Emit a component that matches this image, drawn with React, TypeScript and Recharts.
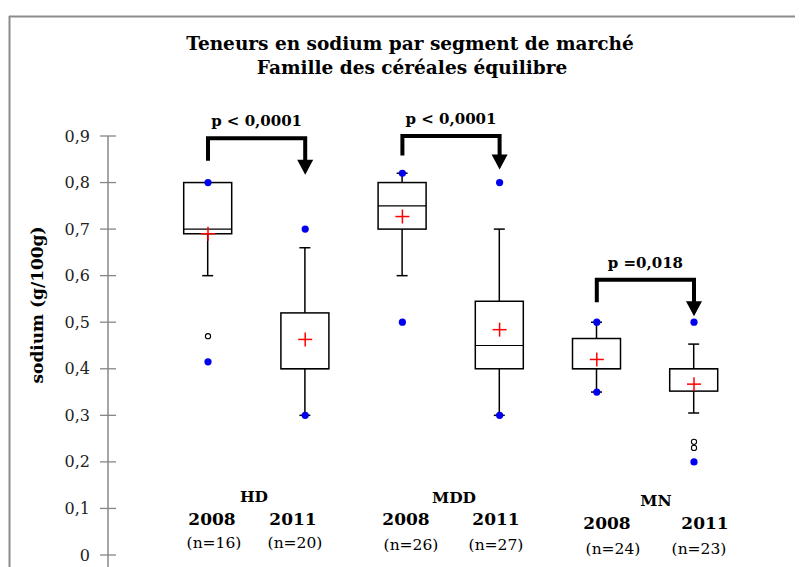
import React from 'react';
import { ComposedChart, Bar, Scatter, XAxis, YAxis } from 'recharts';

const categories = ['HD 2008', 'HD 2011', 'MDD 2008', 'MDD 2011', 'MN 2008', 'MN 2011'];
const xPos = [1, 2, 3, 4, 5, 6];
const q1 = [0.69, 0.4, 0.7, 0.4, 0.4, 0.352];
const median = [0.7, 0.4, 0.75, 0.45, 0.4, 0.4];
const q3 = [0.8, 0.52, 0.8, 0.545, 0.465, 0.4];
const mean = [0.69, 0.463, 0.727, 0.484, 0.42, 0.367];
const whiskerLow = [0.6, 0.3, 0.6, 0.3, 0.35, 0.305];
const whiskerHigh = [0.8, 0.66, 0.82, 0.7, 0.5, 0.453];
const minVal = [0.415, 0.3, 0.5, 0.3, 0.35, 0.2];
const maxVal = [0.8, 0.7, 0.82, 0.8, 0.5, 0.5];
const outliers = [
  { x: 1, y: 0.47 },
  { x: 6, y: 0.243 },
  { x: 6, y: 0.23 },
];
const yTicks = [0, 0.1, 0.2, 0.3, 0.4, 0.5, 0.6, 0.7, 0.8, 0.9];

// p-value brackets: from x1 to x2, top of bracket and bottom of the verticals
const brackets = [
  { x1: 1, x2: 2, top: 0.895, bottom: 0.847, label: 'p < 0,0001' },
  { x1: 3, x2: 4, top: 0.9, bottom: 0.858, label: 'p < 0,0001' },
  { x1: 5, x2: 6, top: 0.591, bottom: 0.543, label: 'p =0,018' },
];

const groupLabels = [
  { text: 'HD', x: 246, y: 494 },
  { text: 'MDD', x: 446, y: 495 },
  { text: 'MN', x: 648, y: 498 },
];
const yearLabels = [
  { text: '2008', x: 204, y: 517 },
  { text: '2011', x: 285, y: 517 },
  { text: '2008', x: 398, y: 517 },
  { text: '2011', x: 488, y: 517 },
  { text: '2008', x: 599, y: 521 },
  { text: '2011', x: 697, y: 521 },
];
const nLabels = [
  { text: '(n=16)', x: 206, y: 540 },
  { text: '(n=20)', x: 287, y: 540 },
  { text: '(n=26)', x: 403, y: 542 },
  { text: '(n=27)', x: 488, y: 542 },
  { text: '(n=24)', x: 605, y: 546 },
  { text: '(n=23)', x: 691, y: 546 },
];

const boxData = categories.map((name, i) => ({
  name,
  x: xPos[i],
  box: [q1[i], q3[i]],
  q1: q1[i],
  q3: q3[i],
  median: median[i],
  low: whiskerLow[i],
  high: whiskerHigh[i],
}));
const meanData = categories.map((_, i) => ({ x: xPos[i], y: mean[i] }));
const extremeData = categories.flatMap((_, i) => [
  { x: xPos[i], y: minVal[i] },
  { x: xPos[i], y: maxVal[i] },
]);

const SERIF = '"DejaVu Serif", serif';

const BoxShape = (props: any) => {
  const { x, y, width, height, payload } = props;
  if (height == null || !payload) return null;
  const k = height / (payload.q3 - payload.q1);
  const py = (v: number) => y + (payload.q3 - v) * k;
  const cx = x + width / 2;
  const cap = 5.5;
  const hi = py(payload.high);
  const lo = py(payload.low);
  const med = py(payload.median);
  return (
    <g>
      {payload.high > payload.q3 && (
        <g stroke="#000" strokeWidth={1.5}>
          <line x1={cx} x2={cx} y1={hi} y2={y} />
          <line x1={cx - cap} x2={cx + cap} y1={hi} y2={hi} />
        </g>
      )}
      {payload.low < payload.q1 && (
        <g stroke="#000" strokeWidth={1.5}>
          <line x1={cx} x2={cx} y1={y + height} y2={lo} />
          <line x1={cx - cap} x2={cx + cap} y1={lo} y2={lo} />
        </g>
      )}
      <rect x={x} y={y} width={width} height={height} fill="#fff" stroke="#000" strokeWidth={1.5} />
      <line x1={x} x2={x + width} y1={med} y2={med} stroke="#000" strokeWidth={1.2} />
    </g>
  );
};

const MeanShape = (props: any) => {
  const { cx, cy } = props;
  return (
    <g stroke="#ff0000" strokeWidth={1.5}>
      <line x1={cx - 7} x2={cx + 7} y1={cy} y2={cy} />
      <line x1={cx} x2={cx} y1={cy - 7} y2={cy + 7} />
    </g>
  );
};

const DotShape = (props: any) => <circle cx={props.cx} cy={props.cy} r={3.6} fill="#0000ee" />;

const OpenShape = (props: any) => (
  <circle cx={props.cx} cy={props.cy} r={2.6} fill="#fff" stroke="#000" strokeWidth={1.1} />
);

const ArrowShape = (props: any) => {
  const { cx, cy, payload } = props;
  if (!payload?.arrow) return null;
  return <polygon points={`${cx - 8},${cy - 1} ${cx + 8},${cy - 1} ${cx},${cy + 14}`} fill="#000" />;
};

const PLabelShape = (props: any) => {
  const { cx, cy, payload } = props;
  return (
    <text x={cx} y={cy - 12} textAnchor="middle" fontFamily={SERIF} fontWeight="bold" fontSize={15} fill="#000">
      {payload.label}
    </text>
  );
};

const YTick = (props: any) => {
  const { x, y, payload } = props;
  const axisX = x + 18;
  return (
    <g>
      <line x1={axisX - 8} x2={axisX + 8} y1={y} y2={y} stroke="#878787" strokeWidth={1.3} />
      <text x={x} y={y} dy="0.35em" textAnchor="end" fontFamily={SERIF} fontSize={16} fill="#222">
        {String(payload.value).replace('.', ',')}
      </text>
    </g>
  );
};

export default function App() {
  return (
    <div style={{ position: 'relative', width: 795, height: 559, background: '#fff' }}>
      <ComposedChart
        width={795}
        height={559}
        data={boxData}
        margin={{ top: 128, right: 60, bottom: 0, left: 0 }}
      >
        <XAxis
          type="number"
          dataKey="x"
          domain={[1, 6]}
          ticks={xPos}
          padding={{ left: 100, right: 49 }}
          hide
        />
        <YAxis
          type="number"
          domain={[-0.0258, 0.9]}
          ticks={yTicks}
          width={100}
          tickLine={false}
          tickSize={8}
          tickMargin={10}
          tick={<YTick />}
          axisLine={{ stroke: '#878787', strokeWidth: 1.5 }}
        />
        <Bar dataKey="box" barSize={48} shape={<BoxShape />} isAnimationActive={false} />
        <Scatter data={outliers} dataKey="y" shape={<OpenShape />} isAnimationActive={false} />
        <Scatter data={extremeData} dataKey="y" shape={<DotShape />} isAnimationActive={false} />
        <Scatter data={meanData} dataKey="y" shape={<MeanShape />} isAnimationActive={false} />
        {brackets.map((b, i) => (
          <Scatter
            key={'br' + i}
            data={[
              { x: b.x1, y: b.bottom },
              { x: b.x1, y: b.top },
              { x: b.x2, y: b.top },
              { x: b.x2, y: b.bottom, arrow: true },
            ]}
            dataKey="y"
            line={{ stroke: '#000', strokeWidth: 4 }}
            shape={<ArrowShape />}
            isAnimationActive={false}
          />
        ))}
        <Scatter
          data={brackets.map((b) => ({ x: (b.x1 + b.x2) / 2, y: b.top, label: b.label }))}
          dataKey="y"
          shape={<PLabelShape />}
          isAnimationActive={false}
        />
      </ComposedChart>
      <svg
        width={795}
        height={559}
        style={{ position: 'absolute', left: 0, top: 0, pointerEvents: 'none' }}
      >
        <line x1={1} x2={795} y1={8.5} y2={8.5} stroke="#8c8c8c" strokeWidth={2} />
        <line x1={1.5} x2={1.5} y1={8} y2={559} stroke="#8c8c8c" strokeWidth={2} />
        <text x={402} y={42} textAnchor="middle" fontFamily={SERIF} fontWeight="bold" fontSize={18.5} fill="#000">
          Teneurs en sodium par segment de marché
        </text>
        <text x={404} y={66} textAnchor="middle" fontFamily={SERIF} fontWeight="bold" fontSize={18.5} fill="#000">
          Famille des céréales équilibre
        </text>
        <text
          x={35}
          y={297}
          transform="rotate(-90 35 297)"
          textAnchor="middle"
          fontFamily={SERIF}
          fontWeight="bold"
          fontSize={17}
          fill="#000"
        >
          sodium (g/100g)
        </text>
        {groupLabels.map((l, i) => (
          <text key={'g' + i} x={l.x} y={l.y} textAnchor="middle" fontFamily={SERIF} fontWeight="bold" fontSize={15.5} fill="#000">
            {l.text}
          </text>
        ))}
        {yearLabels.map((l, i) => (
          <text key={'y' + i} x={l.x} y={l.y} textAnchor="middle" fontFamily={SERIF} fontWeight="bold" fontSize={17} fill="#000">
            {l.text}
          </text>
        ))}
        {nLabels.map((l, i) => (
          <text key={'n' + i} x={l.x} y={l.y} textAnchor="middle" fontFamily={SERIF} fontSize={15.5} fill="#000">
            {l.text}
          </text>
        ))}
      </svg>
    </div>
  );
}
